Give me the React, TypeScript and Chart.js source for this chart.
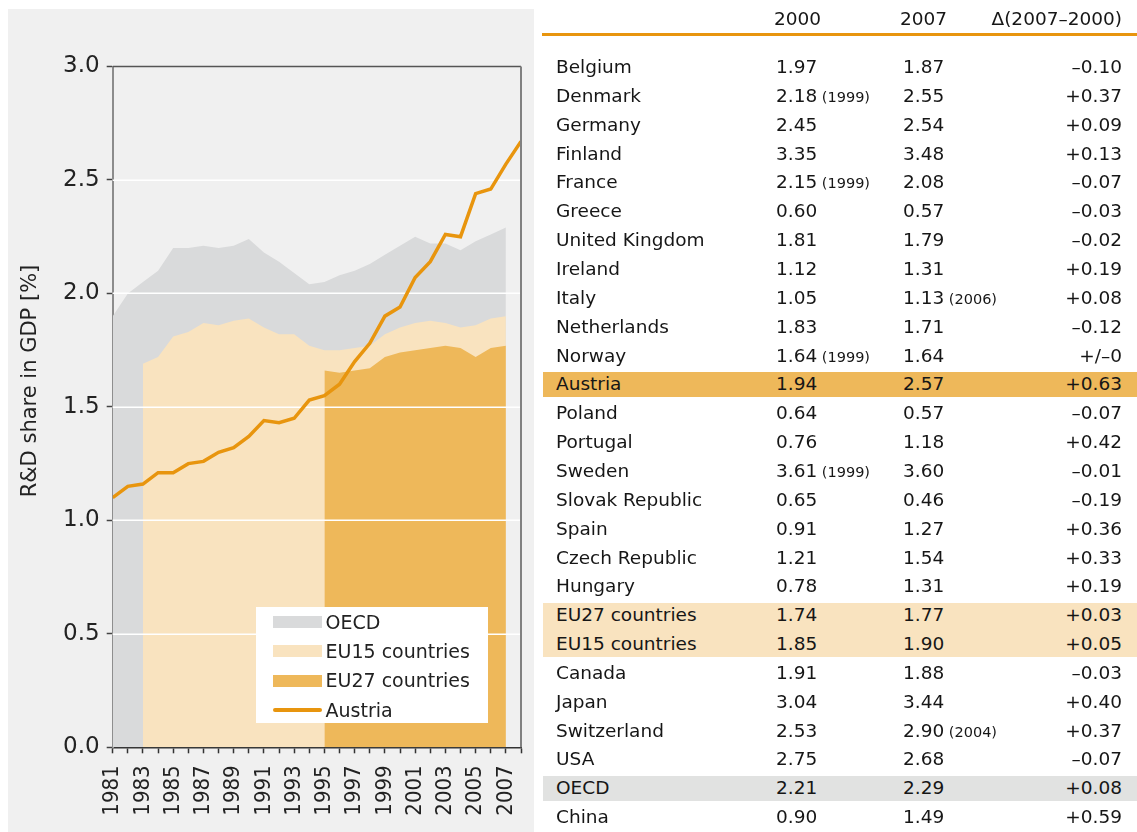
import React, { useEffect, useRef } from "react";
import { Chart, registerables } from "chart.js";

Chart.register(...registerables);

// ---------- chart data ----------
const years = [
  1981, 1982, 1983, 1984, 1985, 1986, 1987, 1988, 1989, 1990, 1991, 1992, 1993, 1994,
  1995, 1996, 1997, 1998, 1999, 2000, 2001, 2002, 2003, 2004, 2005, 2006, 2007, 2008,
];
const oecdValues = [
  1.9, 2.0, 2.05, 2.1, 2.2, 2.2, 2.21, 2.2, 2.21, 2.24, 2.18, 2.14, 2.09, 2.04,
  2.05, 2.08, 2.1, 2.13, 2.17, 2.21, 2.25, 2.22, 2.22, 2.19, 2.23, 2.26, 2.29, null,
];
const eu15Values = [
  null, null, 1.69, 1.72, 1.81, 1.83, 1.87, 1.86, 1.88, 1.89, 1.85, 1.82, 1.82, 1.77,
  1.75, 1.75, 1.76, 1.77, 1.82, 1.85, 1.87, 1.88, 1.87, 1.85, 1.86, 1.89, 1.9, null,
];
const eu27Values = [
  null, null, null, null, null, null, null, null, null, null, null, null, null, null,
  1.66, 1.65, 1.66, 1.67, 1.72, 1.74, 1.75, 1.76, 1.77, 1.76, 1.72, 1.76, 1.77, null,
];
const austriaValues = [
  1.1, 1.15, 1.16, 1.21, 1.21, 1.25, 1.26, 1.3, 1.32, 1.37, 1.44, 1.43, 1.45, 1.53,
  1.55, 1.6, 1.7, 1.78, 1.9, 1.94, 2.07, 2.14, 2.26, 2.25, 2.44, 2.46, 2.57, 2.67,
];
const seriesLabels = ["OECD", "EU15 countries", "EU27 countries", "Austria"];
const yAxisTitle = "R&D share in GDP [%]";

// ---------- table data ----------
const tableHeaders = ["2000", "2007", "\u0394(2007\u20132000)"];
const countries = [
  "Belgium", "Denmark", "Germany", "Finland", "France", "Greece", "United Kingdom",
  "Ireland", "Italy", "Netherlands", "Norway", "Austria", "Poland", "Portugal", "Sweden",
  "Slovak Republic", "Spain", "Czech Republic", "Hungary", "EU27 countries",
  "EU15 countries", "Canada", "Japan", "Switzerland", "USA", "OECD", "China",
];
const values2000 = [
  "1.97", "2.18", "2.45", "3.35", "2.15", "0.60", "1.81", "1.12", "1.05", "1.83", "1.64",
  "1.94", "0.64", "0.76", "3.61", "0.65", "0.91", "1.21", "0.78", "1.74", "1.85", "1.91",
  "3.04", "2.53", "2.75", "2.21", "0.90",
];
const notes2000 = [
  "", "(1999)", "", "", "(1999)", "", "", "", "", "", "(1999)", "", "", "", "(1999)", "",
  "", "", "", "", "", "", "", "", "", "", "",
];
const values2007 = [
  "1.87", "2.55", "2.54", "3.48", "2.08", "0.57", "1.79", "1.31", "1.13", "1.71", "1.64",
  "2.57", "0.57", "1.18", "3.60", "0.46", "1.27", "1.54", "1.31", "1.77", "1.90", "1.88",
  "3.44", "2.90", "2.68", "2.29", "1.49",
];
const notes2007 = [
  "", "", "", "", "", "", "", "", "(2006)", "", "", "", "", "", "", "", "", "", "", "", "",
  "", "", "(2004)", "", "", "",
];
const deltas = [
  "\u20130.10", "+0.37", "+0.09", "+0.13", "\u20130.07", "\u20130.03", "\u20130.02", "+0.19",
  "+0.08", "\u20130.12", "+/\u20130", "+0.63", "\u20130.07", "+0.42", "\u20130.01",
  "\u20130.19", "+0.36", "+0.33", "+0.19", "+0.03", "+0.05", "\u20130.03", "+0.40",
  "+0.37", "\u20130.07", "+0.08", "+0.59",
];
const rowHighlights = [
  "", "", "", "", "", "", "", "", "", "", "", "austria", "", "", "", "", "", "", "",
  "eu", "eu", "", "", "", "", "oecd", "",
];

// ---------- styling ----------
const FONT = "'DejaVu Sans', 'Noto Sans', sans-serif";
const C_PANEL = "#f0f0f0";
const C_OECD = "#d9dadb";
const C_EU15 = "#f9e3bf";
const C_EU27 = "#eeb85a";
const C_AUT = "#e8950e";
const C_OECD_ROW = "#e1e2e1";

const toPoints = (vals: (number | null)[]) =>
  years
    .map((yr, i) => ({ x: yr, y: vals[i] }))
    .filter((p) => p.y !== null) as { x: number; y: number }[];

const gridAndFrame = {
  id: "gridAndFrame",
  beforeDatasetDraw(chart: any, args: any) {
    if (args.index !== 3) return;
    const { ctx, chartArea, scales } = chart;
    const y = scales.y;
    ctx.save();
    ctx.strokeStyle = "#ffffff";
    ctx.lineWidth = 1.5;
    y.ticks.forEach((t: any) => {
      if (t.value <= y.min || t.value >= y.max) return;
      const py = Math.round(y.getPixelForValue(t.value)) + 0.25;
      ctx.beginPath();
      ctx.moveTo(chartArea.left, py);
      ctx.lineTo(chartArea.right, py);
      ctx.stroke();
    });
    ctx.restore();
  },
  afterDraw(chart: any) {
    const { ctx, chartArea } = chart;
    ctx.save();
    ctx.strokeStyle = "#555555";
    ctx.lineWidth = 1.5;
    ctx.beginPath();
    ctx.moveTo(chartArea.left, chartArea.top);
    ctx.lineTo(chartArea.right, chartArea.top);
    ctx.stroke();
    ctx.strokeStyle = "#808080";
    ctx.lineWidth = 2;
    ctx.beginPath();
    ctx.moveTo(chartArea.right, chartArea.top);
    ctx.lineTo(chartArea.right, chartArea.bottom);
    ctx.stroke();
    // y-axis title, placed a little above the axis middle as in the original
    const yScale = chart.scales.y;
    ctx.translate(yScale.left + 23, chartArea.top + (chartArea.bottom - chartArea.top) * 0.462);
    ctx.rotate(-Math.PI / 2);
    ctx.fillStyle = "#222222";
    ctx.font = "21px " + FONT;
    ctx.textAlign = "center";
    ctx.textBaseline = "middle";
    ctx.fillText(yAxisTitle, 0, 0);
    ctx.restore();
  },
};

function RDChart() {
  const ref = useRef<HTMLCanvasElement | null>(null);
  useEffect(() => {
    if (!ref.current) return;
    const areaBase = { borderWidth: 0, pointRadius: 0, fill: "origin" as const, tension: 0 };
    const chart = new Chart(ref.current, {
      type: "line",
      data: {
        datasets: [
          { ...areaBase, label: seriesLabels[0], data: toPoints(oecdValues), backgroundColor: C_OECD, order: 3 },
          { ...areaBase, label: seriesLabels[1], data: toPoints(eu15Values), backgroundColor: C_EU15, order: 2 },
          { ...areaBase, label: seriesLabels[2], data: toPoints(eu27Values), backgroundColor: C_EU27, order: 1 },
          {
            label: seriesLabels[3],
            data: toPoints(austriaValues),
            borderColor: C_AUT,
            borderWidth: 3.5,
            pointRadius: 0,
            fill: false,
            tension: 0,
            order: 0,
            borderJoinStyle: "miter",
          },
        ],
      },
      options: {
        responsive: false,
        animation: false,
        layout: { padding: { top: 57.5, right: 13, left: 0, bottom: 0 } },
        plugins: { legend: { display: false }, tooltip: { enabled: false } },
        scales: {
          x: {
            type: "linear",
            min: 1981,
            max: 2008,
            afterFit: (s: any) => {
              s.height = 84.7;
              s.paddingLeft = 0;
              s.paddingRight = 0;
            },
            border: { display: true, color: "#333333", width: 1.5 },
            grid: { drawOnChartArea: false, drawTicks: true, tickLength: 6, tickColor: "#333333", tickWidth: 1.5 },
            ticks: {
              stepSize: 1,
              autoSkip: false,
              maxTicksLimit: 100,
              minRotation: 90,
              maxRotation: 90,
              padding: 12,
              color: "#222222",
              font: { family: "'Liberation Sans Narrow', 'DejaVu Sans Condensed', " + FONT, size: 22 },
              callback: (v: any) => (Number(v) % 2 === 1 && Number(v) < 2008 ? String(v) : ""),
            },
          },
          y: {
            min: 0,
            max: 3,
            afterFit: (s: any) => {
              s.width = 104.7;
              s.paddingTop = 0;
              s.paddingBottom = 0;
            },
            border: { display: true, color: "#8c8c8c", width: 2 },
            grid: { drawOnChartArea: false, drawTicks: true, tickLength: 6, tickColor: "#444444", tickWidth: 1.5 },
            ticks: {
              stepSize: 0.5,
              padding: 7,
              color: "#222222",
              font: { family: FONT, size: 23 },
              callback: (v: any) => Number(v).toFixed(1),
            },
            title: { display: false, text: yAxisTitle },
          },
        },
      },
      plugins: [gridAndFrame],
    });
    return () => chart.destroy();
  }, []);
  return (
    <canvas
      ref={ref}
      width={526}
      height={823}
      style={{ position: "absolute", left: 8, top: 9, width: 526, height: 823 }}
    />
  );
}

function Legend() {
  const rows = [
    { label: seriesLabels[0], kind: "box", color: C_OECD },
    { label: seriesLabels[1], kind: "box", color: C_EU15 },
    { label: seriesLabels[2], kind: "box", color: C_EU27 },
    { label: seriesLabels[3], kind: "line", color: C_AUT },
  ];
  return (
    <div
      style={{
        position: "absolute",
        left: 255.5,
        top: 607,
        width: 232,
        height: 116,
        background: "#ffffff",
        fontFamily: FONT,
        fontSize: 19,
        color: "#222",
      }}
    >
      {rows.map((r, i) => (
        <div
          key={r.label}
          style={{ position: "absolute", left: 0, top: 0.5 + i * 29.3, height: 29.3, width: 232, display: "flex", alignItems: "center" }}
        >
          <div
            style={{
              marginLeft: 17,
              width: 49,
              height: r.kind === "box" ? 12 : 4,
              borderRadius: r.kind === "box" ? 0 : 2,
              background: r.color,
            }}
          />
          <span style={{ marginLeft: 4, whiteSpace: "nowrap", lineHeight: "29px" }}>{r.label}</span>
        </div>
      ))}
    </div>
  );
}

function DataTable() {
  const pitch = 28.85;
  const firstCenter = 67.5;
  const rowColor = (h: string) =>
    h === "austria" ? C_EU27 : h === "eu" ? C_EU15 : h === "oecd" ? C_OECD_ROW : "transparent";
  const cell = { position: "absolute" as const, top: 0, height: pitch, lineHeight: pitch + "px", whiteSpace: "nowrap" as const };
  const noteStyle = { fontSize: 14.5 };
  return (
    <div style={{ position: "absolute", left: 0, top: 0, width: 1137, height: 832, fontFamily: FONT, fontSize: 18.5, color: "#161616" }}>
      <div style={{ ...cell, top: 19.5 - pitch / 2, left: 774 }}>{tableHeaders[0]}</div>
      <div style={{ ...cell, top: 19.5 - pitch / 2, left: 900 }}>{tableHeaders[1]}</div>
      <div style={{ ...cell, top: 19.5 - pitch / 2, right: 1137 - 1122, textAlign: "right" }}>{tableHeaders[2]}</div>
      <div style={{ position: "absolute", left: 542, top: 32.5, width: 595, height: 3, background: C_AUT }} />
      {countries.map((c, i) => {
        const top = firstCenter + i * pitch - pitch / 2;
        const h = rowHighlights[i];
        const prevSame = i > 0 && rowHighlights[i - 1] === h;
        const nextSame = i < countries.length - 1 && rowHighlights[i + 1] === h;
        const inTop = prevSame ? 0 : 2;
        const inBot = nextSame ? 0 : 2;
        return (
          <div key={c} style={{ position: "absolute", left: 0, top, width: 1137, height: pitch }}>
            {h && (
              <div
                style={{
                  position: "absolute",
                  left: 543,
                  width: 594,
                  top: inTop,
                  height: pitch - inTop - inBot,
                  background: rowColor(h),
                }}
              />
            )}
            <div style={{ ...cell, left: 556 }}>{c}</div>
            <div style={{ ...cell, left: 776 }}>
              {values2000[i]}
              {notes2000[i] && <span style={noteStyle}> {notes2000[i]}</span>}
            </div>
            <div style={{ ...cell, left: 903 }}>
              {values2007[i]}
              {notes2007[i] && <span style={noteStyle}> {notes2007[i]}</span>}
            </div>
            <div style={{ ...cell, right: 1137 - 1122, textAlign: "right" }}>{deltas[i]}</div>
          </div>
        );
      })}
    </div>
  );
}

export default function App() {
  return (
    <div style={{ position: "absolute", left: 0, top: 0, width: 1137, height: 832, overflow: "hidden", background: "#ffffff" }}>
      <div style={{ position: "absolute", left: 8, top: 9, width: 526, height: 823, background: C_PANEL }} />
      <RDChart />
      <Legend />
      <DataTable />
    </div>
  );
}
